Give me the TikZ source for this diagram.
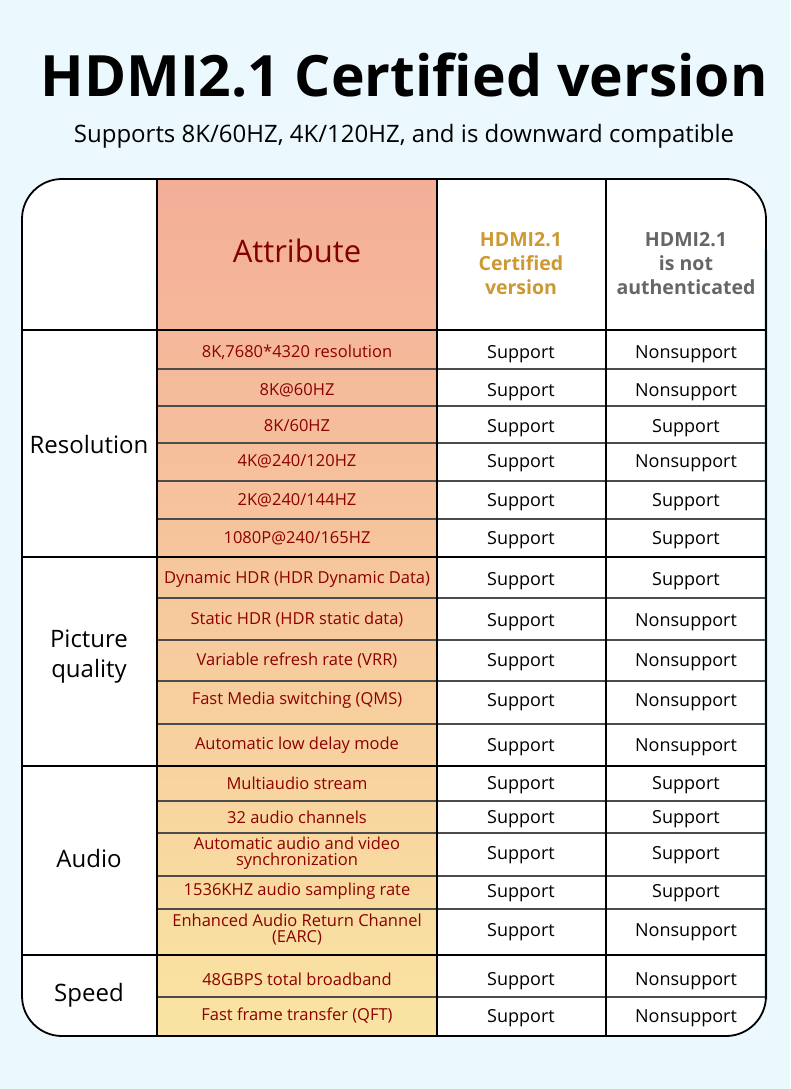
\documentclass[tikz,border=0pt]{standalone}
\usepackage{fontspec}
\setmainfont{Open Sans}
\definecolor{topc}{HTML}{F4AE98}
\definecolor{botc}{HTML}{F9E4A2}
\begin{document}
\begin{tikzpicture}[x=1pt,y=-1pt,
 attr/.style={text=red!55!black,font=\fontsize{16.5}{16}\selectfont,align=center},
 val/.style={text=black,font=\fontsize{18}{18}\selectfont},
 grp/.style={font=\fontsize{24}{30}\selectfont,align=center},
 gline/.style={line width=1.6pt,black},
 rline/.style={line width=1.6pt,black!70}]
\useasboundingbox (0,0) rectangle (790,1089);
\fill[cyan!8!white] (0,0) rectangle (790,1089);
\node[font=\bfseries\fontsize{57}{60}\selectfont] (title) at (404,75) {HDMI2.1 Certified version};
\node[font=\fontsize{24}{26}\selectfont] (sub) at (404,136) {Supports 8K/60HZ, 4K/120HZ, and is downward compatible};
\fill[white,rounded corners=40pt] (22,179) rectangle (766,1036);
\begin{scope}
\clip[rounded corners=40pt] (22,179) rectangle (766,1036);
\shade[top color=topc,bottom color=botc] (157,179) rectangle (437,1036);
\end{scope}
\fill[cyan!40,opacity=0.5] (764,250) rectangle (768,1000);
\foreach \y in {369,406,443,481,519,598,640,681,724,801,833,876,909,997} \draw[rline] (157,\y) -- (766,\y);
\foreach \y in {330,557,766,955} \draw[gline] (22,\y) -- (766,\y);
\foreach \x in {157,437,606} \draw[gline] (\x,179) -- (\x,1036);
\draw[line width=1.8pt,rounded corners=40pt] (22,179) rectangle (766,1036);
\node[text=red!50!black,font=\fontsize{31}{34}\selectfont] (hattr) at (297,251) {Attribute};
\node[text=brown!80!yellow,font=\bfseries\fontsize{19.5}{24}\selectfont,align=center] (hc) at (521,264) {HDMI2.1\\Certified\\version};
\node[text=black!60,font=\bfseries\fontsize{19.5}{24}\selectfont,align=center] (hn) at (686,264) {HDMI2.1\\is not\\authenticated};
\node[grp] (g1) at (89,444) {Resolution};
\node[grp] (g2) at (89,657) {Picture\\quality};
\node[grp] (g3) at (89,858) {Audio};
\node[grp] (g4) at (89,995) {Speed};
\foreach \y/\a/\b/\c [count=\i] in {
352/{8K,7680*4320 resolution}/Support/Nonsupport,
390/{8K@60HZ}/Support/Nonsupport,
426/{8K/60HZ}/Support/Support,
461/{4K@240/120HZ}/Support/Nonsupport,
500/{2K@240/144HZ}/Support/Support,
538/{1080P@240/165HZ}/Support/Support,
579/{Dynamic HDR (HDR Dynamic Data)}/Support/Support,
620/{Static HDR (HDR static data)}/Support/Nonsupport,
660/{Variable refresh rate (VRR)}/Support/Nonsupport,
700/{Fast Media switching (QMS)}/Support/Nonsupport,
745/{Automatic low delay mode}/Support/Nonsupport,
783/{Multiaudio stream}/Support/Support,
817/{32 audio channels}/Support/Support,
853/{Automatic audio and video\\synchronization}/Support/Support,
891/{1536KHZ audio sampling rate}/Support/Support,
930/{Enhanced Audio Return Channel\\(EARC)}/Support/Nonsupport,
979/{48GBPS total broadband}/Support/Nonsupport,
1016/{Fast frame transfer (QFT)}/Support/Nonsupport} {
 \node[attr] (a\i) at (297,\y) {\a};
 \node[val] (b\i) at (521,\y+2) {\b};
 \node[val] (c\i) at (686,\y+2) {\c};
}
\end{tikzpicture}
\end{document}
